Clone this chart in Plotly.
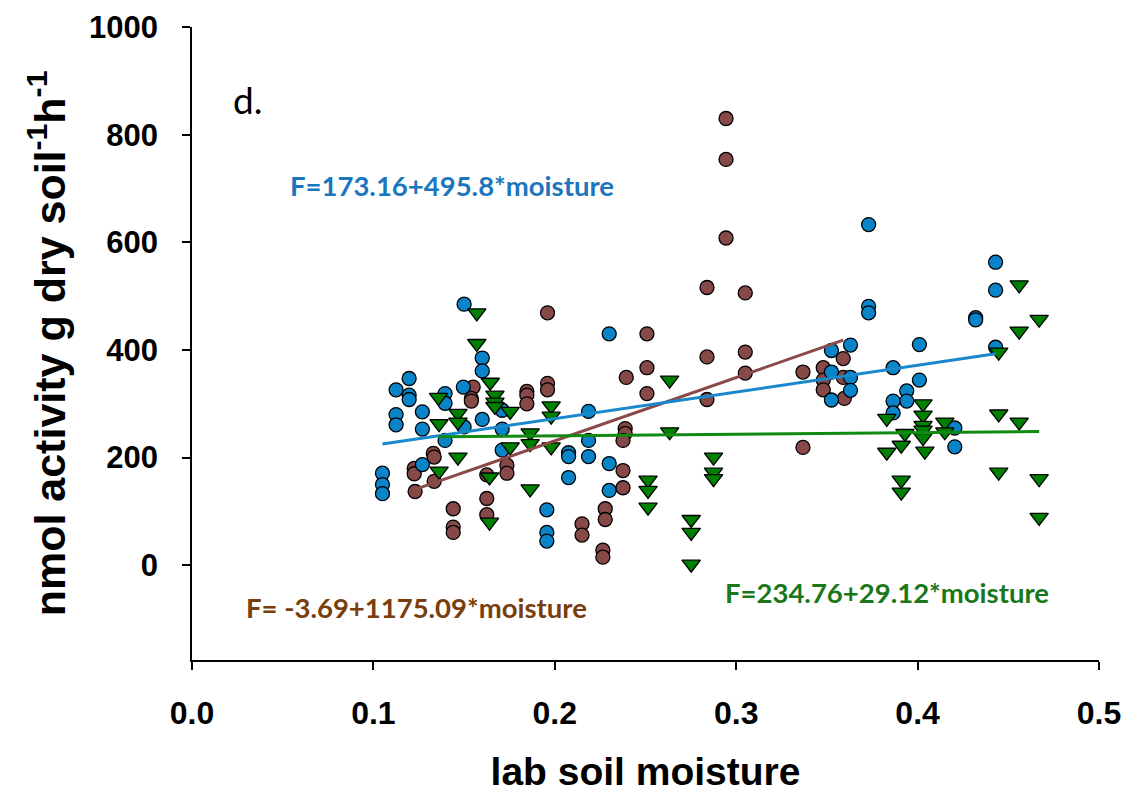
import plotly.graph_objects as go

# ---- data ----
blue_x = [0.150, 0.160, 0.160, 0.1197, 0.1125, 0.1197, 0.1197, 0.1395, 0.1395, 0.1496,
          0.1125, 0.1125, 0.127, 0.127, 0.150, 0.160, 0.171, 0.171, 0.1395, 0.171,
          0.127, 0.105, 0.105, 0.105, 0.2186, 0.2186, 0.2186, 0.2076, 0.2076, 0.2076,
          0.1956, 0.1956, 0.1956, 0.230, 0.230, 0.230, 0.3525, 0.3525, 0.3525, 0.363,
          0.363, 0.363, 0.373, 0.373, 0.373, 0.443, 0.443, 0.432, 0.432, 0.401,
          0.443, 0.3865, 0.401, 0.394, 0.394, 0.3865, 0.3865, 0.4205, 0.4205]
blue_y = [485, 385, 361, 347, 326, 316, 308, 319, 301, 331,
          280, 261, 285, 253, 257, 271, 288, 253, 232, 214,
          187, 171, 150, 133, 286, 232, 202, 209, 202, 163,
          103, 61, 45, 430, 189, 139, 399, 359, 307, 409,
          349, 325, 633, 481, 469, 563, 511, 460, 456, 410,
          405, 367, 344, 324, 305, 305, 283, 255, 220]

brown_x = [0.196, 0.155, 0.154, 0.154, 0.1846, 0.1846, 0.1846, 0.196, 0.196, 0.133,
           0.1335, 0.1225, 0.1225, 0.1335, 0.123, 0.1625, 0.1736, 0.1736, 0.1625, 0.1625,
           0.144, 0.144, 0.144, 0.215, 0.215, 0.2278, 0.2278, 0.2265, 0.2265, 0.2944,
           0.2944, 0.2944, 0.2839, 0.305, 0.2508, 0.2839, 0.305, 0.2508, 0.2394, 0.305,
           0.2508, 0.2839, 0.2388, 0.2388, 0.2376, 0.2376, 0.2376, 0.3368, 0.3368, 0.348,
           0.348, 0.348, 0.359, 0.359, 0.3596]
brown_y = [469, 331, 310, 305, 323, 316, 300, 338, 326, 208,
           201, 180, 170, 156, 137, 168, 186, 171, 124, 94,
           105, 71, 61, 77, 56, 105, 85, 28, 15, 830,
           754, 608, 516, 506, 430, 387, 396, 367, 349, 357,
           319, 308, 254, 245, 232, 176, 144, 359, 219, 367,
           344, 326, 384, 349, 310]

green_x = [0.157, 0.157, 0.1644, 0.1359, 0.167, 0.167, 0.167, 0.1754, 0.1466, 0.1466,
           0.1362, 0.198, 0.198, 0.1864, 0.1864, 0.1754, 0.198, 0.1466, 0.1362, 0.164,
           0.1864, 0.164, 0.2633, 0.2633, 0.2514, 0.2514, 0.2514, 0.2875, 0.2875, 0.2875,
           0.2752, 0.2752, 0.2752, 0.456, 0.467, 0.456, 0.4447, 0.403, 0.403, 0.383,
           0.415, 0.403, 0.403, 0.393, 0.415, 0.403, 0.391, 0.383, 0.404, 0.4447,
           0.456, 0.391, 0.391, 0.4447, 0.467, 0.467]
green_y = [469, 412, 340, 312, 316, 303, 295, 286, 282, 266,
           263, 296, 277, 246, 226, 220, 220, 201, 175, 164,
           142, 80, 344, 248, 158, 139, 108, 201, 173, 161,
           85, 61, 2, 521, 457, 435, 396, 300, 279, 273,
           266, 260, 251, 245, 248, 237, 223, 210, 212, 281,
           266, 158, 136, 173, 161, 89]

# regression lines: intercept, slope, x extent
blue_fit = (173.16, 495.8, [0.105, 0.443])
brown_fit = (-3.69, 1175.09, [0.123, 0.359])
green_fit = (234.76, 29.12, [0.136, 0.467])

x_ticks = [0.0, 0.1, 0.2, 0.3, 0.4, 0.5]
y_ticks = [0, 200, 400, 600, 800, 1000]

# ---- styling ----
BLUE = "#0A84C8"
BROWN = "#874848"
GREEN = "#008000"

fig = go.Figure()

def fit_line(fit):
    a, b, xs = fit
    return xs, [a + b * x for x in xs]

fig.add_trace(go.Scatter(x=brown_x, y=brown_y, mode="markers",
                         marker=dict(symbol="circle", size=14, color=BROWN,
                                     line=dict(color="black", width=1.3)),
                         showlegend=False))
fig.add_trace(go.Scatter(x=blue_x, y=blue_y, mode="markers",
                         marker=dict(symbol="circle", size=14, color=BLUE,
                                     line=dict(color="black", width=1.3)),
                         showlegend=False))
fig.add_trace(go.Scatter(x=green_x, y=green_y, mode="markers",
                         marker=dict(symbol="triangle-down", size=16, color=GREEN,
                                     line=dict(color="black", width=1.3)),
                         showlegend=False))

for fit, col in [(brown_fit, "#8A4A4A"), (blue_fit, "#1A88CC"), (green_fit, "#118A11")]:
    lx, ly = fit_line(fit)
    fig.add_trace(go.Scatter(x=lx, y=ly, mode="lines",
                             line=dict(color=col, width=3), showlegend=False))

ann_font = "Lato, 'Open Sans', sans-serif"
fig.add_annotation(x=0.1435, y=706, text="<b>F=173.16+495.8*moisture</b>", showarrow=False,
                   font=dict(family=ann_font, size=27.5, color="#1B76BE"), xanchor="center")
fig.add_annotation(x=0.1235, y=-78, text="<b>F= -3.69+1175.09*moisture</b>", showarrow=False,
                   font=dict(family=ann_font, size=27.5, color="#7A3E0C"), xanchor="center")
fig.add_annotation(x=0.383, y=-50, text="<b>F=234.76+29.12*moisture</b>", showarrow=False,
                   font=dict(family=ann_font, size=27.5, color="#1A781A"), xanchor="center")
fig.add_annotation(x=0.0305, y=866, text="d.", showarrow=False,
                   font=dict(family=ann_font, size=37, color="black"), xanchor="center")

fig.update_layout(
    width=1133, height=793,
    margin=dict(l=192, r=34, t=27, b=133),
    plot_bgcolor="white", paper_bgcolor="white",
    font=dict(family="Liberation Sans, Arial, sans-serif", color="black"),
    xaxis=dict(range=[0, 0.5], tickvals=x_ticks, ticktext=[f"{v:.1f}" for v in x_ticks],
               automargin=False,
               showline=True, linecolor="black", linewidth=1.5, showgrid=False, zeroline=False,
               ticks="outside", ticklen=8, tickwidth=1.5, tickcolor="black",
               ticklabelstandoff=16,
               tickfont=dict(family="Liberation Sans, Arial", size=32, weight="bold"),
               title=dict(text="<b>lab soil moisture</b>", standoff=28,
                          font=dict(family="Liberation Sans, Arial", size=39))),
    yaxis=dict(range=[-176, 1000], tickvals=y_ticks,
               automargin=False,
               showline=True, linecolor="black", linewidth=1.5, showgrid=False, zeroline=False,
               ticks="outside", ticklen=8, tickwidth=1.5, tickcolor="black",
               ticklabelstandoff=18,
               tickfont=dict(family="Liberation Sans, Arial", size=31, weight="bold"),
               title=dict(text="<b>nmol activity g dry soil<sup>-1</sup>h<sup>-1</sup></b>", standoff=10,
                          font=dict(family="Liberation Sans, Arial", size=43))),
)

fig.write_html("out.html")
